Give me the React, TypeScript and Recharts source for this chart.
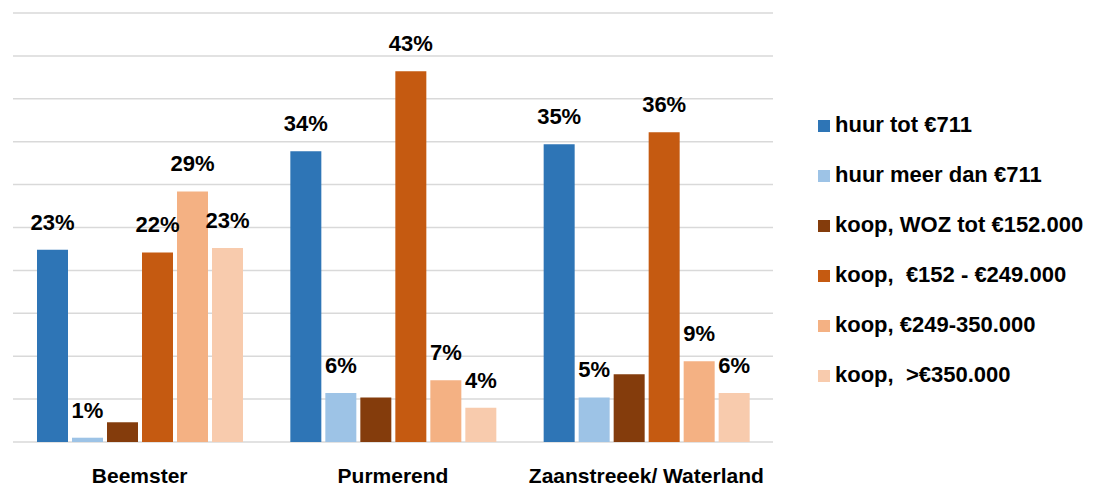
import React from 'react';
import { BarChart, Bar, XAxis, YAxis, CartesianGrid, Legend, LabelList } from 'recharts';

const categories = ['Beemster', 'Purmerend', 'Zaanstreeek/ Waterland'];

const huurTot = [22.4, 33.9, 34.7];
const huurMeer = [0.5, 5.7, 5.2];
const koopWoz = [2.3, 5.2, 7.9];
const koop152 = [22.1, 43.2, 36.1];
const koop249 = [29.2, 7.2, 9.4];
const koop350 = [22.6, 4.0, 5.7];

const huurTotLabels = ['23%', '34%', '35%'];
const huurMeerLabels = ['1%', '6%', '5%'];
const koop152Labels = ['22%', '43%', '36%'];
const koop249Labels = ['29%', '7%', '9%'];
const koop350Labels = ['23%', '4%', '6%'];

const yTicks = [0, 5, 10, 15, 20, 25, 30, 35, 40, 45, 50];

const seriesNames = [
  'huur tot €711',
  'huur meer dan €711',
  'koop, WOZ tot €152.000',
  'koop,  €152 - €249.000',
  'koop, €249-350.000',
  'koop,  >€350.000',
];
const seriesKeys = ['huurTot', 'huurMeer', 'koopWoz', 'koop152', 'koop249', 'koop350'];
const colors = ['#2E75B6', '#9DC3E6', '#843C0C', '#C55A11', '#F4B183', '#F8CBAD'];

const data = categories.map((c, i) => ({
  name: c,
  huurTot: huurTot[i],
  huurMeer: huurMeer[i],
  koopWoz: koopWoz[i],
  koop152: koop152[i],
  koop249: koop249[i],
  koop350: koop350[i],
  huurTotLabel: huurTotLabels[i],
  huurMeerLabel: huurMeerLabels[i],
  koopWozLabel: '',
  koop152Label: koop152Labels[i],
  koop249Label: koop249Labels[i],
  koop350Label: koop350Labels[i],
}));

const FONT = '"Liberation Sans", Arial, sans-serif';

const renderLabel = (props: any) => {
  const { x, y, width, value } = props;
  if (!value) return null;
  return (
    <text
      x={Number(x) + Number(width) / 2}
      y={Number(y) - 20}
      textAnchor="middle"
      fontFamily={FONT}
      fontWeight={700}
      fontSize={22}
      fill="#000"
    >
      {value}
    </text>
  );
};

const renderTick = (props: any) => {
  const { x, y, payload } = props;
  return (
    <text
      x={x}
      y={y}
      dy={33}
      textAnchor="middle"
      fontFamily={FONT}
      fontWeight={700}
      fontSize={21}
      fill="#000"
    >
      {payload.value}
    </text>
  );
};

const renderLegend = () => (
  <div style={{ fontFamily: FONT, fontWeight: 700, fontSize: 22, color: '#000' }}>
    {seriesNames.map((n, i) => (
      <div key={n} style={{ height: 50, display: 'flex', alignItems: 'center', whiteSpace: 'pre' }}>
        <span style={{ display: 'inline-block', width: 12, height: 12, background: colors[i], marginRight: 5, marginTop: 2 }} />
        <span style={{ lineHeight: '50px' }}>{n}</span>
      </div>
    ))}
  </div>
);

export default function App() {
  return (
    <div style={{ position: 'absolute', left: 0, top: 0, width: 1101, height: 486, background: '#fff' }}>
      <BarChart
        width={1101}
        height={486}
        data={data}
        margin={{ top: 13, right: 328, bottom: 0, left: 13 }}
        barSize={31}
        barGap={4}
      >
        <CartesianGrid vertical={false} stroke="#d9d9d9" strokeWidth={1.5} />
        <XAxis dataKey="name" axisLine={false} tickLine={false} height={44} tick={renderTick} interval={0} />
        <YAxis hide domain={[0, 50]} ticks={yTicks} />
        <Legend
          layout="vertical"
          align="center"
          verticalAlign="middle"
          content={renderLegend}
          wrapperStyle={{ left: 818, top: 100, width: 283, height: 300 }}
        />
        {seriesKeys.map((k, i) => (
          <Bar key={k} dataKey={k} name={seriesNames[i]} fill={colors[i]} isAnimationActive={false}>
            <LabelList dataKey={k + 'Label'} content={renderLabel} />
          </Bar>
        ))}
      </BarChart>
    </div>
  );
}
